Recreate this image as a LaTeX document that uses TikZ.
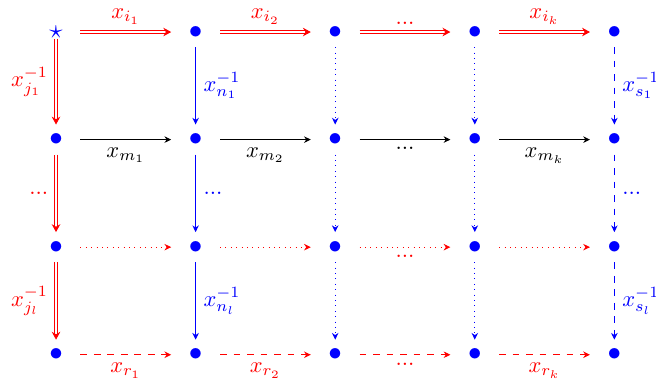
\documentclass[tikz,border=0pt]{standalone}
\usepackage{xcolor}
\usepackage{amsmath,amssymb}
\usepackage{tikz}
\usetikzlibrary{arrows.meta}

\begin{document}
\begin{tikzpicture}[
  gridpt/.style={
    blue, inner sep=0pt, font=\large,
    minimum width=21.3pt, minimum height=13pt
  },
  startpt/.style={blue, inner sep=0pt, font=\large, minimum width=21.3pt},
  hop/.style={-{Stealth[length=3pt, width=2.9pt]}},
  redpath/.style={-{Stealth[length=3.5pt, width=3.8pt]}, red, double},
  blackpath/.style={hop, black},
  reddot/.style={hop, red, dotted},
  reddash/.style={hop, red, dashed},
  bluepath/.style={hop, blue},
  bluedot/.style={hop, blue, dotted},
  bluedash/.style={hop, blue, dashed}
]
  \useasboundingbox (-0.875,0.50) rectangle (9.37,-5.58);

  % grid points
  \node[startpt] (a0) at (0,0) {$\star$};
  \node[gridpt] (a1) at (2.18,0) {$\bullet$};
  \node[gridpt] (a2) at (4.36,0) {$\bullet$};
  \node[gridpt] (a3) at (6.54,0) {$\bullet$};
  \node[gridpt] (a4) at (8.72,0) {$\bullet$};
  \node[gridpt] (b0) at (0,-1.68) {$\bullet$};
  \node[gridpt] (b1) at (2.18,-1.68) {$\bullet$};
  \node[gridpt] (b2) at (4.36,-1.68) {$\bullet$};
  \node[gridpt] (b3) at (6.54,-1.68) {$\bullet$};
  \node[gridpt] (b4) at (8.72,-1.68) {$\bullet$};
  \node[gridpt] (c0) at (0,-3.36) {$\bullet$};
  \node[gridpt] (c1) at (2.18,-3.36) {$\bullet$};
  \node[gridpt] (c2) at (4.36,-3.36) {$\bullet$};
  \node[gridpt] (c3) at (6.54,-3.36) {$\bullet$};
  \node[gridpt] (c4) at (8.72,-3.36) {$\bullet$};
  \node[gridpt] (d0) at (0,-5.04) {$\bullet$};
  \node[gridpt] (d1) at (2.18,-5.04) {$\bullet$};
  \node[gridpt] (d2) at (4.36,-5.04) {$\bullet$};
  \node[gridpt] (d3) at (6.54,-5.04) {$\bullet$};
  \node[gridpt] (d4) at (8.72,-5.04) {$\bullet$};

  % rows
  \draw[redpath] (a0) -- node[above] (ai1) {$x_{i_1}$} (a1);
  \draw[redpath] (a1) -- node[above] (ai2) {$x_{i_2}$} (a2);
  \draw[redpath] (a2) -- node[above] (aidots) {$...$} (a3);
  \draw[redpath] (a3) -- node[above] (aik) {$x_{i_k}$} (a4);

  \draw[blackpath] (b0) -- node[below] (bm1) {$x_{m_1}$} (b1);
  \draw[blackpath] (b1) -- node[below] (bm2) {$x_{m_2}$} (b2);
  \draw[blackpath] (b2) -- node[below] (bmdots) {$...$} (b3);
  \draw[blackpath] (b3) -- node[below] (bmk) {$x_{m_k}$} (b4);

  \draw[reddot] (c0) -- (c1);
  \draw[reddot] (c1) -- (c2);
  \draw[reddot] (c2) -- node[below] (cdots) {$...$} (c3);
  \draw[reddot] (c3) -- (c4);

  \draw[reddash] (d0) -- node[below] (dr1) {$x_{r_1}$} (d1);
  \draw[reddash] (d1) -- node[below] (dr2) {$x_{r_2}$} (d2);
  \draw[reddash] (d2) -- node[below] (drdots) {$...$} (d3);
  \draw[reddash] (d3) -- node[below] (drk) {$x_{r_k}$} (d4);

  % columns
  \draw[redpath] (a0) -- node[left] (jj1) {$x_{j_1}^{-1}$} (b0);
  \draw[redpath] (b0) -- node[left] (jjdots) {$...$} (c0);
  \draw[redpath] (c0) -- node[left] (jjl) {$x_{j_l}^{-1}$} (d0);

  \draw[bluepath] (a1) -- node[right] (nn1) {$x_{n_1}^{-1}$} (b1);
  \draw[bluepath] (b1) -- node[right] (nndots) {$...$} (c1);
  \draw[bluepath] (c1) -- node[right] (nnl) {$x_{n_l}^{-1}$} (d1);

  \draw[bluedot] (a2) -- (b2);
  \draw[bluedot] (b2) -- (c2);
  \draw[bluedot] (c2) -- (d2);
  \draw[bluedot] (a3) -- (b3);
  \draw[bluedot] (b3) -- (c3);
  \draw[bluedot] (c3) -- (d3);

  \draw[bluedash] (a4) -- node[right] (ss1) {$x_{s_1}^{-1}$} (b4);
  \draw[bluedash] (b4) -- node[right] (ssdots) {$...$} (c4);
  \draw[bluedash] (c4) -- node[right] (ssl) {$x_{s_l}^{-1}$} (d4);
\end{tikzpicture}
\end{document}
